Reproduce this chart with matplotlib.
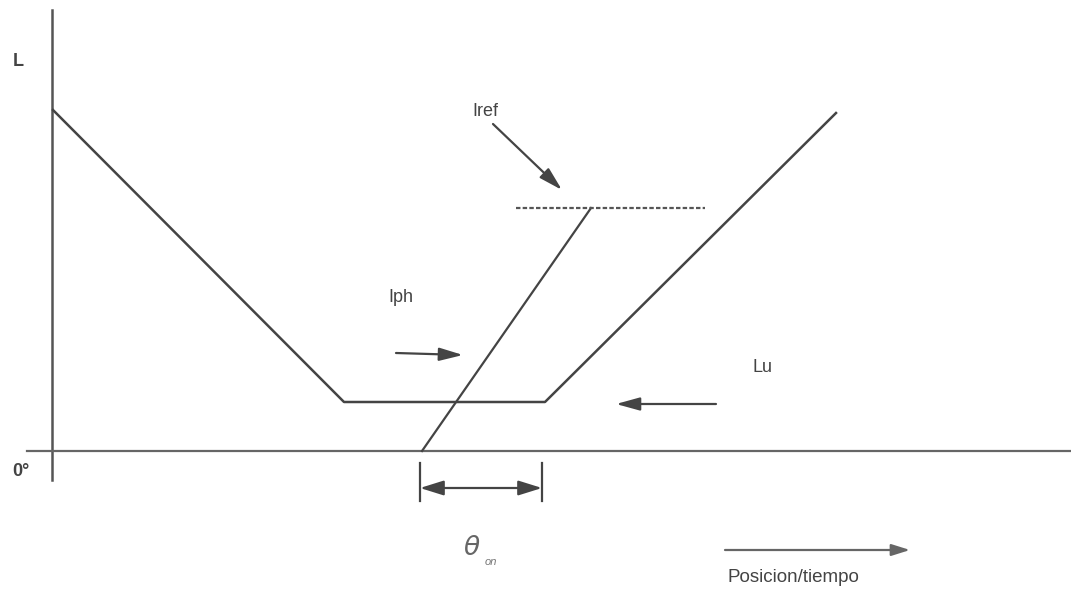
import matplotlib
matplotlib.use("Agg")
import matplotlib.pyplot as plt

plt.rcParams['font.family'] = ['Liberation Sans', 'DejaVu Sans']

# diagram coordinates in picture pixels (x right, y down)
inductance_x = [53, 344, 545, 836]
inductance_y = [110, 402, 402, 113]
current_x = [422, 591]
current_y = [451, 208]
iref_x = [516, 705]
iref_y = [208, 208]
theta_on = [420, 542]

col = '#444444'

fig = plt.figure(figsize=(10.71, 5.90), dpi=100)
ax = fig.add_axes([0, 0, 1, 1])
ax.set_xlim(0, 1071)
ax.set_ylim(590, 0)
ax.axis('off')

# axes of the sketch
ax.plot([52, 52], [10, 480], color='#555555', lw=1.8)
ax.plot([27, 1071], [451, 451], color='#666666', lw=1.6)

ax.plot(inductance_x, inductance_y, color=col, lw=1.8)
ax.plot(current_x, current_y, color=col, lw=1.6)
ax.plot(iref_x, iref_y, color='#555555', lw=1.6, ls=(0, (2, 1)))

arrow = dict(arrowstyle='-|>,head_length=0.8,head_width=0.22', color=col, lw=1.6,
             mutation_scale=18, shrinkA=0, shrinkB=0)
ax.annotate('', xy=(562, 190), xytext=(493, 124), arrowprops=arrow)
ax.annotate('', xy=(463, 355), xytext=(396, 353), arrowprops=arrow)
ax.annotate('', xy=(616, 404), xytext=(716, 404), arrowprops=arrow)
ax.annotate('', xy=(910, 550), xytext=(725, 550), arrowprops=dict(arrowstyle='-|>,head_length=0.7,head_width=0.22',
                                                                 color='#666666', lw=1.6, mutation_scale=16,
                                                                 shrinkA=0, shrinkB=0))

# theta_on dimension
for xv in theta_on:
    ax.plot([xv, xv], [463, 501], color=col, lw=1.6)
ax.annotate('', xy=(theta_on[0], 488), xytext=(theta_on[1], 488),
            arrowprops=dict(arrowstyle='<|-|>,head_length=0.8,head_width=0.25', color=col, lw=1.6,
                            mutation_scale=18, shrinkA=0, shrinkB=0))

tk = dict(color='#444444', fontsize=13)
ax.text(18, 61, 'L', ha='center', va='center', fontweight='bold', **tk)
ax.text(21, 471, '0°', ha='center', va='center', fontweight='bold', **tk)
ax.text(485, 111, 'Iref', ha='center', va='center', **tk)
ax.text(401, 297, 'Iph', ha='center', va='center', **tk)
ax.text(763, 368, 'Lu', ha='center', va='center', **tk)
ax.text(472, 548, r'$\theta$', ha='center', va='center', color='#666666', fontsize=19)
ax.text(491, 562, 'on', ha='center', va='center', color='#777777', fontsize=8, style='italic')
ax.text(793, 578, 'Posicion/tiempo', ha='center', va='center', color='#444444', fontsize=13.5)

fig.savefig('out.png', dpi=100)
